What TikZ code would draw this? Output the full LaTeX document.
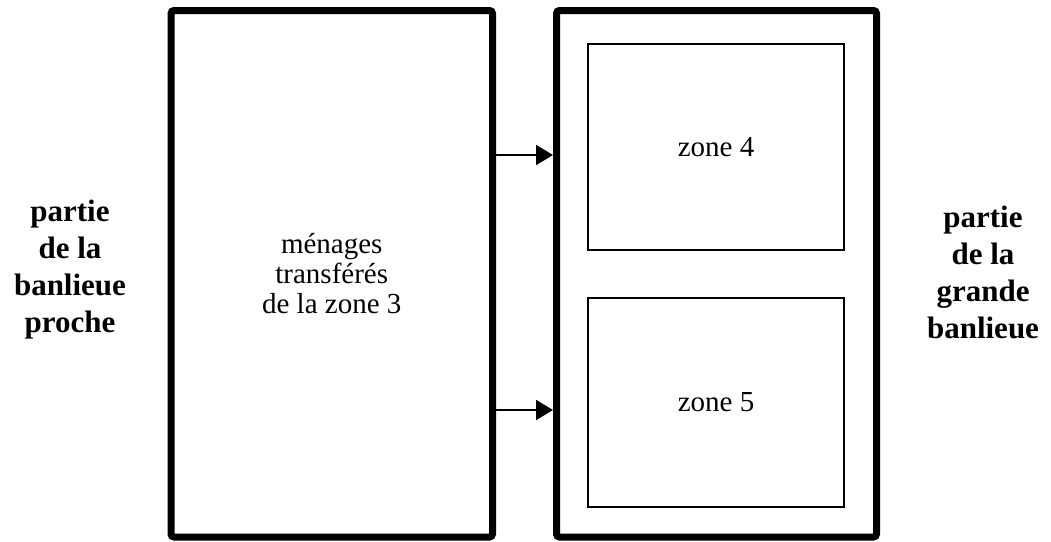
\documentclass[tikz,border=0pt]{standalone}
\usepackage{fontspec}
\setmainfont{Liberation Serif}
\usetikzlibrary{arrows.meta}

\begin{document}
\begin{tikzpicture}[x=1pt,y=-1pt,
  bigbox/.style={draw,line width=7pt,rounded corners=3pt,inner sep=0pt},
  zonebox/.style={draw,line width=2pt,inner sep=0pt},
  side/.style={font=\fontsize{31}{37}\selectfont\bfseries,align=center},
  link/.style={line width=2pt,-{Triangle[length=17pt,width=20pt]}}]
\useasboundingbox (0,0) rectangle (1051,541);

\node[bigbox,minimum width=321.5pt,minimum height=526.5pt,
  font=\fontsize{29}{30}\selectfont,align=center] (lbox) at (331.75,273.75)
  {ménages\\transférés\\de la zone 3};
\node[bigbox,minimum width=320pt,minimum height=526.5pt] (rbox) at (716.5,273.75) {};

\node[zonebox,minimum width=256pt,minimum height=206pt,font=\fontsize{29}{30}\selectfont]
  (zfour) at (716,147) {zone 4};
\node[zonebox,minimum width=256pt,minimum height=209pt,font=\fontsize{29}{30}\selectfont]
  (zfive) at (716,402.5) {zone 5};

\coordinate (ya) at (0,155);
\coordinate (yb) at (0,410);
\draw[link] (lbox.east |- ya) -- (rbox.west |- ya);
\draw[link] (lbox.east |- yb) -- (rbox.west |- yb);

\node[side] (lproche) at (70,270) {partie\\de la\\banlieue\\proche};
\node[side] (lgrande) at (983,272) {partie\\de la\\grande\\banlieue};
\end{tikzpicture}
\end{document}
